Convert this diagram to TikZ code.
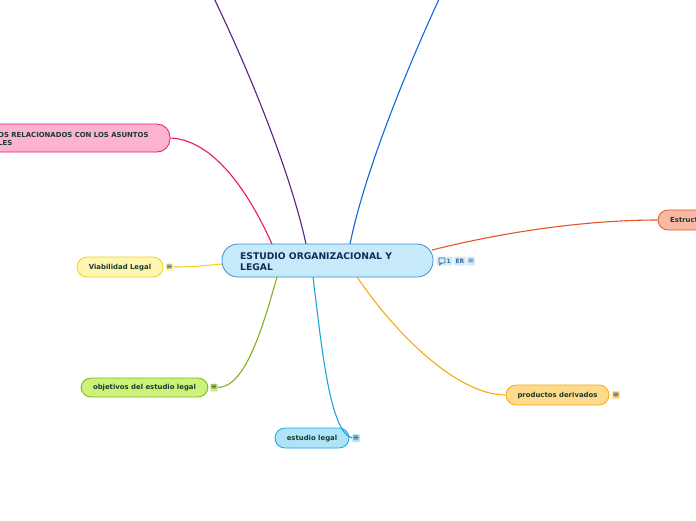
\documentclass[tikz,border=0pt]{standalone}
\usepackage{fontspec}
\setmainfont{DejaVu Sans}
\newfontfamily\symfont{DejaVu Sans}
\definecolor{txtdark}{HTML}{1B3A2E}
\definecolor{navy}{HTML}{152A55}
\definecolor{cfill}{HTML}{C6EAFA}
\definecolor{cdraw}{HTML}{3B8ED2}
\definecolor{pfill}{HTML}{FDB3D0}
\definecolor{pdraw}{HTML}{EC1173}
\definecolor{rfill}{HTML}{F9B8A4}
\definecolor{rdraw}{HTML}{E65528}
\definecolor{yfill}{HTML}{FFF6B2}
\definecolor{ydraw}{HTML}{F0D21A}
\definecolor{gfill}{HTML}{CDF27C}
\definecolor{gdraw}{HTML}{7BB41C}
\definecolor{bfill}{HTML}{AEE3F8}
\definecolor{bdraw}{HTML}{1BA3E2}
\definecolor{ofill}{HTML}{FFDA8C}
\definecolor{odraw}{HTML}{F6AA0E}
\definecolor{purp}{HTML}{5A1E82}
\definecolor{blu}{HTML}{1466D6}
\definecolor{iconfill}{HTML}{D4ECF8}
\definecolor{icontext}{HTML}{3B6B9C}
\tikzset{
  box/.style={draw, line width=0.8pt, inner sep=0pt},
  lbl/.style={font=\bfseries\fontsize{6.9}{8}\selectfont, text=txtdark, inner sep=0pt},
  conn/.style={line width=1.1pt},
  ico/.style={fill=#1, rounded corners=1pt, inner sep=0.4pt, font=\symfont\fontsize{8}{8}\selectfont, text=txtdark, minimum width=7pt, minimum height=8pt},
  cico/.style={fill=iconfill, rounded corners=1pt, inner sep=0.8pt, font=\bfseries\fontsize{6}{6}\selectfont, text=icontext, minimum height=9pt}
}
\begin{document}
\begin{tikzpicture}[x=1pt,y=-1pt]
\useasboundingbox (0,0) rectangle (696,520);
\begin{scope}
\clip (0,0) rectangle (696,520);
% connector end points
\coordinate (ptop) at (205,-20);
\coordinate (btop) at (448,-20);
\coordinate (cpink) at (272,244);
\coordinate (cpurp) at (306,244);
\coordinate (cblue) at (350,244);
\coordinate (cred) at (432,250);
\coordinate (cyel) at (222,264);
\coordinate (cgreen) at (277,277);
\coordinate (ccyan) at (313,277);
\coordinate (corange) at (357,277);

% nodes
\node[box, fill=pfill, draw=pdraw, rounded corners=13pt, minimum width=210pt, minimum height=28pt] (pink) at (65,138) {};
\node[lbl, anchor=west, align=left] (pinkt) at (-2,138.5) {OS RELACIONADOS CON LOS ASUNTOS\\LES};

\node[box, fill=rfill, draw=rdraw, rounded corners=10pt, minimum width=80pt, minimum height=20pt] (red) at (698,220) {};
\node[lbl, anchor=west] (redt) at (670,220.5) {Estructura};

\node[box, fill=yfill, draw=ydraw, rounded corners=10pt, minimum width=86pt, minimum height=20pt] (yel) at (120,267) {};
\node[lbl] (yelt) at (120,267.5) {Viabilidad Legal};
\node[ico=yfill] (yeli) at (169.5,267) {≡};

\node[box, fill=gfill, draw=gdraw, rounded corners=10pt, minimum width=127pt, minimum height=19pt] (grn) at (144.5,387.5) {};
\node[lbl] (grnt) at (144.5,388) {objetivos del estudio legal};
\node[ico=gfill] (grni) at (214,387.5) {≡};

\node[box, fill=bfill, draw=bdraw, rounded corners=10pt, minimum width=74pt, minimum height=20pt] (cyn) at (312,438) {};
\node[lbl] (cynt) at (312,438.5) {estudio legal};
\node[ico=bfill] (cyni) at (356,438) {≡};

\node[box, fill=ofill, draw=odraw, rounded corners=10pt, minimum width=103pt, minimum height=20pt] (org) at (557.5,395) {};
\node[lbl] (orgt) at (557.5,395.5) {productos derivados};
\node[ico=ofill] (orgi) at (616,395) {≡};

\draw[conn, draw=purp] (ptop) .. controls (245,60) and (290,170) .. (cpurp);
\draw[conn, draw=blu] (btop) .. controls (410,60) and (365,170) .. (cblue);
\draw[conn, draw=pdraw] (pink.east) .. controls (215,140) and (250,195) .. (cpink);
\draw[conn, draw=rdraw] (cred) .. controls (520,228) and (600,220) .. (red.west);
\draw[conn, draw=ydraw] (yeli.east) .. controls (195,267) and (210,265) .. (cyel);
\draw[conn, draw=gdraw] (grni.east) .. controls (245,387) and (262,330) .. (cgreen);
\draw[conn, draw=bdraw] (ccyan) .. controls (322,350) and (330,432) .. (cyni.west);
\draw[conn, draw=odraw] (corange) .. controls (400,340) and (460,395) .. (org.west);

\node[box, fill=cfill, draw=cdraw, rounded corners=16pt, minimum width=211pt, minimum height=33pt] (ctr) at (327.5,260.5) {};
\node[anchor=west, align=left, inner sep=0pt, font=\bfseries\fontsize{9.2}{11.5}\selectfont, text=navy] (ctrt) at (240,261.5) {ESTUDIO ORGANIZACIONAL Y\\LEGAL};

% icons next to central node
\node[cico, minimum width=16pt] (ic1) at (444.5,261) {\phantom{00}1};
\draw[icontext, line width=0.7pt, rounded corners=0.5pt] (439,258) rectangle (445,263);
\draw[icontext, line width=0.6pt] (440,263) -- (439.5,265) -- (442,263);
\node[cico, minimum width=12pt] (ic2) at (460,261) {ER};
\node[cico, minimum width=8pt, font=\symfont\fontsize{8}{8}\selectfont] (ic3) at (471,261) {≡};
\end{scope}
\end{tikzpicture}
\end{document}
